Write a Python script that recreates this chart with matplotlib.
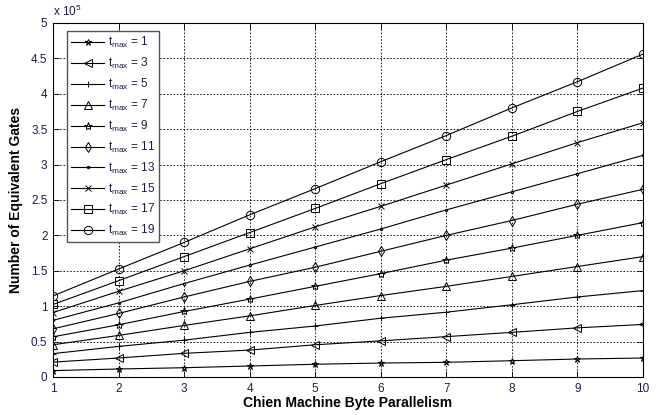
import matplotlib
matplotlib.use("Agg")
import matplotlib.pyplot as plt
from matplotlib.ticker import MultipleLocator, FuncFormatter

# Chien machine byte parallelism
parallelism = [1, 2, 3, 4, 5, 6, 7, 8, 9, 10]

# Number of equivalent gates, in units of 1e5
gates_t1 = [0.09, 0.113, 0.131, 0.155, 0.18, 0.197, 0.207, 0.23, 0.254, 0.268]
gates_t3 = [0.21, 0.268, 0.334, 0.38, 0.455, 0.51, 0.57, 0.63, 0.694, 0.742]
gates_t5 = [0.33, 0.432, 0.52, 0.63, 0.72, 0.83, 0.915, 1.02, 1.13, 1.22]
gates_t7 = [0.455, 0.587, 0.728, 0.863, 1.01, 1.15, 1.28, 1.42, 1.56, 1.70]
gates_t9 = [0.568, 0.737, 0.925, 1.10, 1.28, 1.46, 1.65, 1.82, 2.00, 2.18]
gates_t11 = [0.68, 0.897, 1.13, 1.35, 1.55, 1.775, 2.00, 2.21, 2.44, 2.65]
gates_t13 = [0.80, 1.046, 1.32, 1.58, 1.835, 2.09, 2.36, 2.615, 2.87, 3.13]
gates_t15 = [0.91, 1.21, 1.50, 1.81, 2.12, 2.41, 2.71, 3.01, 3.31, 3.59]
gates_t17 = [1.024, 1.36, 1.70, 2.04, 2.38, 2.73, 3.07, 3.40, 3.75, 4.08]
gates_t19 = [1.145, 1.525, 1.90, 2.29, 2.66, 3.04, 3.41, 3.80, 4.17, 4.56]

tmax_values = [1, 3, 5, 7, 9, 11, 13, 15, 17, 19]
series = [gates_t1, gates_t3, gates_t5, gates_t7, gates_t9,
          gates_t11, gates_t13, gates_t15, gates_t17, gates_t19]
markers = ['*', '<', '+', '^', '*', 'd', '.', 'x', 's', 'o']
msizes = [5, 6, 5, 6, 6, 5.5, 3.5, 4, 6, 6]

plt.rcParams['font.family'] = ['Liberation Sans', 'DejaVu Sans']
plt.rcParams['mathtext.fontset'] = 'custom'
plt.rcParams['mathtext.rm'] = 'Liberation Sans'
plt.rcParams['mathtext.it'] = 'Liberation Sans'

fig = plt.figure(figsize=(6.6, 4.15), dpi=100)
ax = fig.add_axes([0.0803, 0.0916, 0.8937, 0.853])

tick_color = '#1c1c48'
for t, ys, m, ms in zip(tmax_values, series, markers, msizes):
    ax.plot(parallelism, ys, color='black', linewidth=0.8, marker=m,
            markersize=ms, markerfacecolor='none', markeredgecolor='black',
            markeredgewidth=0.7,
            label=r'$\mathregular{t_{max}}$ = %d' % t)

ax.set_xlim(1, 10)
ax.set_ylim(0, 5)
ax.xaxis.set_major_locator(MultipleLocator(1))
ax.yaxis.set_major_locator(MultipleLocator(0.5))
ax.yaxis.set_major_formatter(FuncFormatter(lambda v, p: ('%g' % v)))
ax.grid(True, color='black', linestyle=(0, (2, 2)), linewidth=0.6)
ax.tick_params(direction='in', top=True, right=True, length=4, width=0.6,
               labelsize=8.5, labelcolor=tick_color, pad=4)
for s in ax.spines.values():
    s.set_linewidth(0.8)

ax.set_xlabel('Chien Machine Byte Parallelism', fontsize=10, fontweight='bold',
              labelpad=1)
ax.set_ylabel('Number of Equivalent Gates', fontsize=10, fontweight='bold',
              labelpad=6)
ax.text(0.0, 1.012, r'x 10$^{5}$', transform=ax.transAxes, fontsize=8.5,
        color=tick_color, ha='left', va='bottom')

leg = ax.legend(loc='upper left', bbox_to_anchor=(0.024, 0.977),
                borderaxespad=0, fontsize=8.5, handlelength=2.8,
                handletextpad=0.3, labelspacing=0.49, fancybox=False,
                framealpha=1, edgecolor='#555555', borderpad=0.35)
leg.get_frame().set_linewidth(1.0)
for txt in leg.get_texts():
    txt.set_color(tick_color)

fig.savefig('out.png', dpi=100)
